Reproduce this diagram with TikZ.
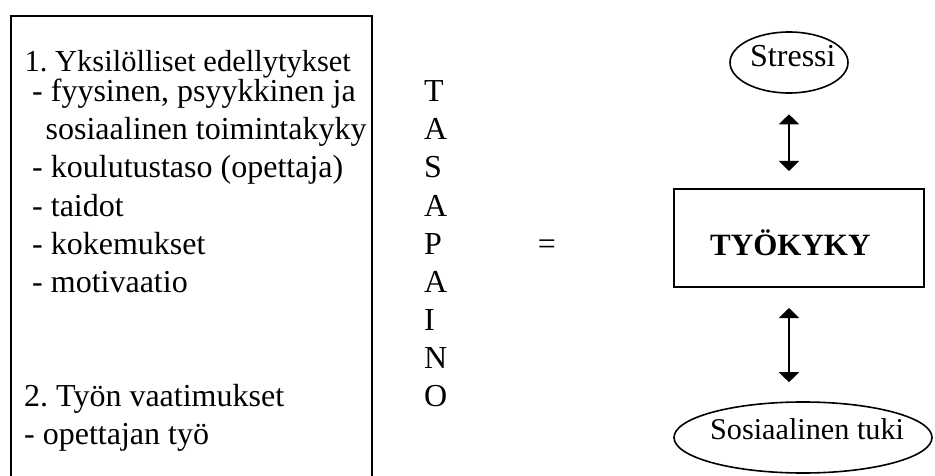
\documentclass[tikz,border=0pt]{standalone}
\usepackage{fontspec}
\setmainfont{Liberation Serif}
\usetikzlibrary{arrows.meta,shapes.geometric}
\frenchspacing
\begin{document}
\begin{tikzpicture}[x=1pt,y=-1pt,
  txt/.style={anchor=base west,inner sep=0pt,font=\fontsize{32}{36}\selectfont},
  frame/.style={draw,line width=2pt,rectangle,inner sep=0pt},
  oval/.style={draw,line width=1.6pt,ellipse,inner sep=0pt},
  dbl/.style={line width=1.8pt,{Triangle[width=20pt,length=10pt]}-{Triangle[width=20pt,length=10pt]}}
]
\useasboundingbox (0,0) rectangle (935,476);
% left box (bottom runs off the page)
\node[frame,minimum width=361pt,minimum height=480pt,anchor=north west] (leftbox) at (10,15) {};
\node[txt,font=\fontsize{30.5}{36}\selectfont] (l1) at (24.5,72) {1. Yksilölliset edellytykset};
\node[txt] (l2) at (32,102) {- fyysinen, psyykkinen ja};
\node[txt] (l3) at (45.5,140) {sosiaalinen toimintakyky};
\node[txt] (l4) at (32,178) {- koulutustaso (opettaja)};
\node[txt] (l5) at (32,216) {- taidot};
\node[txt] (l6) at (32,254) {- kokemukset};
\node[txt] (l7) at (32,292) {- motivaatio};
\node[txt] (l8) at (24,406) {2. Työn vaatimukset};
\node[txt] (l9) at (24,444) {- opettajan työ};
% TASAPAINO
\node[txt] (t1) at (424,102) {T};
\node[txt] (t2) at (424,140) {A};
\node[txt] (t3) at (424,178) {S};
\node[txt] (t4) at (424,216) {A};
\node[txt] (t5) at (424,254) {P};
\node[txt] (t6) at (424,292) {A};
\node[txt] (t7) at (424,330) {I};
\node[txt] (t8) at (424,368) {N};
\node[txt] (t9) at (424,406) {O};
% equals
\node[txt,anchor=base] (eq) at (547,254) {=};
% right column
\node[oval,minimum width=118pt,minimum height=61pt] (stressi) at (789,62.5) {};
\node[txt] (stressitxt) at (750,67) {Stressi};
\node[frame,minimum width=250pt,minimum height=98pt] (tyo) at (799,238) {};
\node[txt,font=\fontsize{31}{36}\selectfont\bfseries] (tyotxt) at (710,255) {TYÖKYKY};
\node[oval,minimum width=258pt,minimum height=71pt] (sos) at (803,437.5) {};
\node[txt,font=\fontsize{30.2}{36}\selectfont] (sostxt) at (710,439) {Sosiaalinen tuki};
% arrows
\draw[dbl,shorten <=20.5pt,shorten >=17pt] (stressi.south) -- (stressi.south |- tyo.north);
\draw[dbl,shorten <=20pt,shorten >=19pt] (stressi.south |- tyo.south) -- (stressi.south |- sos.north);
\end{tikzpicture}
\end{document}
